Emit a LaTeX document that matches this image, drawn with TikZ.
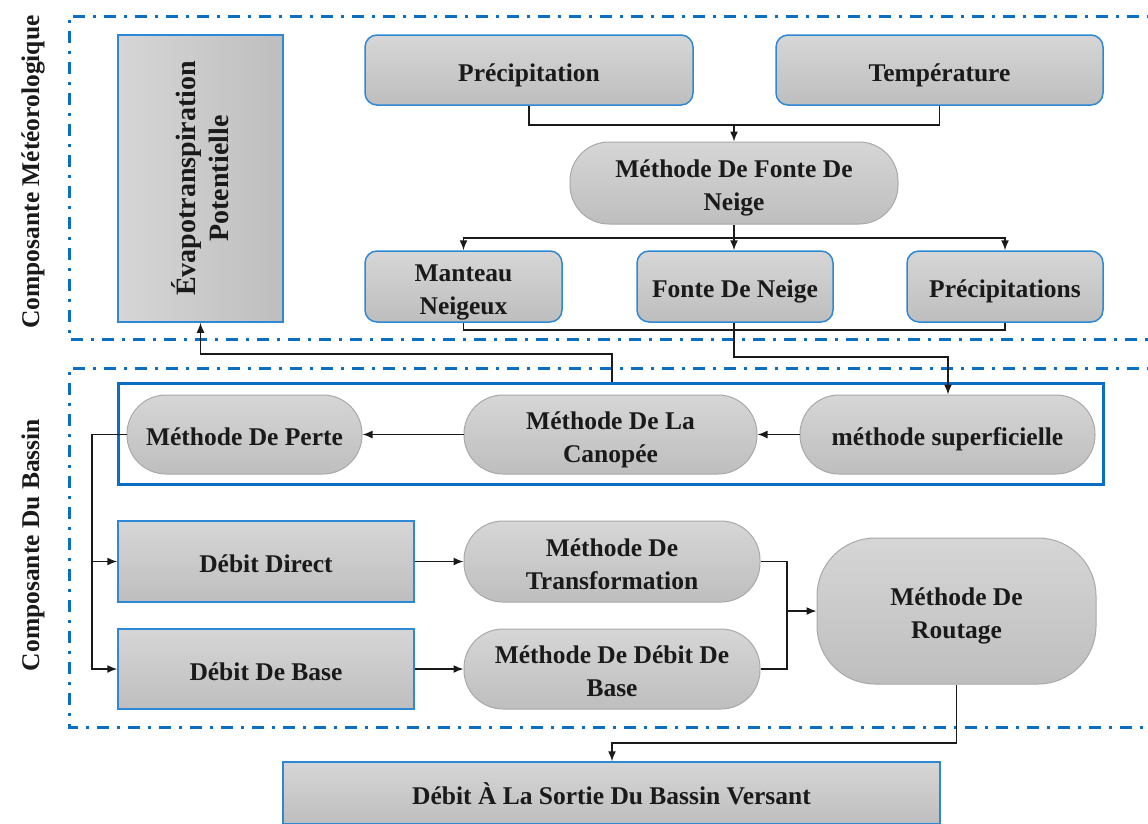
\documentclass[tikz,border=0pt]{standalone}
\usepackage{fontspec}
\setmainfont{Liberation Serif}
\usetikzlibrary{arrows.meta}
\definecolor{frameblue}{HTML}{0A6FC2}
\definecolor{edgeblue}{HTML}{2F88D6}
\definecolor{pillgray}{HTML}{A9A9A9}
\definecolor{topgray}{HTML}{D6D6D6}
\definecolor{botgray}{HTML}{BEBEBE}
\definecolor{ink}{HTML}{1A1A1A}
% struts giving every text line the same top and bottom room
\newcommand{\topstr}{\rule{0pt}{28pt}}
\newcommand{\botstr}{\rule[-6pt]{0pt}{6pt}}
\tikzset{
  txt/.style={font=\fontsize{25.5}{33}\selectfont\bfseries, text=ink, align=center},
  rbox/.style={txt, draw=edgeblue, line width=1.5pt, rounded corners=12pt,
    top color=topgray, bottom color=botgray, inner sep=0pt},
  sbox/.style={txt, draw=edgeblue, line width=1.5pt,
    top color=topgray, bottom color=botgray, inner sep=0pt},
  pill/.style={txt, draw=pillgray, line width=1pt, rounded corners=39pt,
    top color=topgray, bottom color=botgray, inner sep=0pt},
  zone/.style={draw=frameblue, line width=3pt, dash pattern=on 12pt off 8pt on 3pt off 8pt},
  conn/.style={draw=ink, line width=1.5pt},
  arr/.style={conn, -{Latex[length=10pt,width=8pt]}},
}
\begin{document}
\begin{tikzpicture}[x=1pt,y=-1pt]
\useasboundingbox (0,0) rectangle (1148,823);
\fill[white] (0,0) rectangle (1148,823);

% dash-dot zones
\draw[zone] (1170,16) -- (69,16) -- (69,339) -- (1170,339);
\draw[zone] (1170,368) -- (69,368) -- (69,727) -- (1170,727);
\node[txt, rotate=90] (lblmeteo) at (28,172) {\topstr Composante Météorologique\botstr};
\node[txt, rotate=90] (lblbassin) at (28,545) {\topstr Composante Du Bassin\botstr};

% meteorological component
\node[sbox, minimum width=165pt, minimum height=287pt,
      left color=topgray, right color=botgray] (evap) at (200.5,178.5) {};
\node[txt, rotate=90, font=\fontsize{28}{33}\selectfont\bfseries] (evaptxt) at (evap.center)
  {Évapotranspiration\\Potentielle};
\node[rbox, minimum width=328pt, minimum height=70pt] (prec) at (529,70) {\topstr Précipitation\botstr};
\node[rbox, minimum width=327pt, minimum height=70pt] (temp) at (939.5,70) {\topstr Température\botstr};
\node[pill, minimum width=328pt, minimum height=82pt] (mfn) at (734,183) {\topstr Méthode De Fonte De\\Neige\botstr};
\node[rbox, minimum width=197pt, minimum height=71pt] (manteau) at (463.5,286.5) {\topstr Manteau\\Neigeux\botstr};
\node[rbox, minimum width=196pt, minimum height=71pt] (fonte) at (735,286.5) {\topstr Fonte De Neige\botstr};
\node[rbox, minimum width=196pt, minimum height=71pt] (precs) at (1005,286.5) {\topstr Précipitations\botstr};

% basin component
\node[draw=frameblue, line width=3pt, minimum width=985pt, minimum height=101pt, inner sep=0pt] (frame) at (610.5,433.5) {};
\node[pill, minimum width=235pt, minimum height=79pt] (perte) at (244.5,434.5) {\topstr Méthode De Perte\botstr};
\node[pill, minimum width=293pt, minimum height=79pt] (canop) at (610.5,434.5) {\topstr Méthode De La\\Canopée\botstr};
\node[pill, minimum width=295pt, minimum height=79pt] (msup) at (947.5,434.5) {\topstr méthode superficielle\botstr};
\node[sbox, minimum width=296pt, minimum height=81pt] (dd) at (266,561.5) {\topstr Débit Direct\botstr};
\node[sbox, minimum width=296pt, minimum height=80pt] (dbase) at (266,669) {\topstr Débit De Base\botstr};
\node[pill, minimum width=296pt, minimum height=81pt] (mtr) at (612,561.5) {\topstr Méthode De\\Transformation\botstr};
\node[pill, minimum width=296pt, minimum height=80pt] (mdb) at (612,669) {\topstr Méthode De Débit De\\Base\botstr};
\node[pill, rounded corners=58pt, minimum width=279pt, minimum height=146pt] (rout) at (956.5,611) {\topstr Méthode De\\Routage\botstr};
\node[sbox, minimum width=657pt, minimum height=62pt] (sortie) at (611.5,793) {\topstr Débit À La Sortie Du Bassin Versant\botstr};

% junction points
\coordinate (j1) at (734,125);
\coordinate (j2) at (734,238);
\coordinate (j3) at (734,330);
\coordinate (j4) at (948,357);
\coordinate (j5) at (612,354);
\coordinate (j6) at (92,434.5);
\coordinate (j7) at (787,611);
\coordinate (j8) at (612,743);

% connectors
\draw[conn] (prec.south) |- (j1) -| (temp.south);
\draw[arr] (j1) -- (mfn.north);
\draw[conn] (mfn.south) -- (j2);
\draw[arr] (j2) -| (manteau.north);
\draw[arr] (j2) -- (fonte.north -| j2);
\draw[arr] (j2) -| (precs.north);
\draw[conn] (manteau.south) |- (j3) -| (precs.south);
\draw[arr] (fonte.south -| j2) |- (j4) -- (msup.north -| j4);
\draw[arr] (j5 |- frame.north) -- (j5) -| (evap.south);
\draw[arr] (msup.west) -- (canop.east);
\draw[arr] (canop.west) -- (perte.east);
\draw[arr] (perte.west) -- (j6) |- (dd.west);
\draw[arr] (j6) |- (dbase.west);
\draw[arr] (dd.east) -- (mtr.west);
\draw[arr] (dbase.east) -- (mdb.west);
\draw[conn] (mtr.east) -| (j7);
\draw[conn] (mdb.east) -| (j7);
\draw[arr] (j7) -- (rout.west);
\draw[arr] (rout.south) |- (j8) -- (sortie.north -| j8);
\end{tikzpicture}
\end{document}
